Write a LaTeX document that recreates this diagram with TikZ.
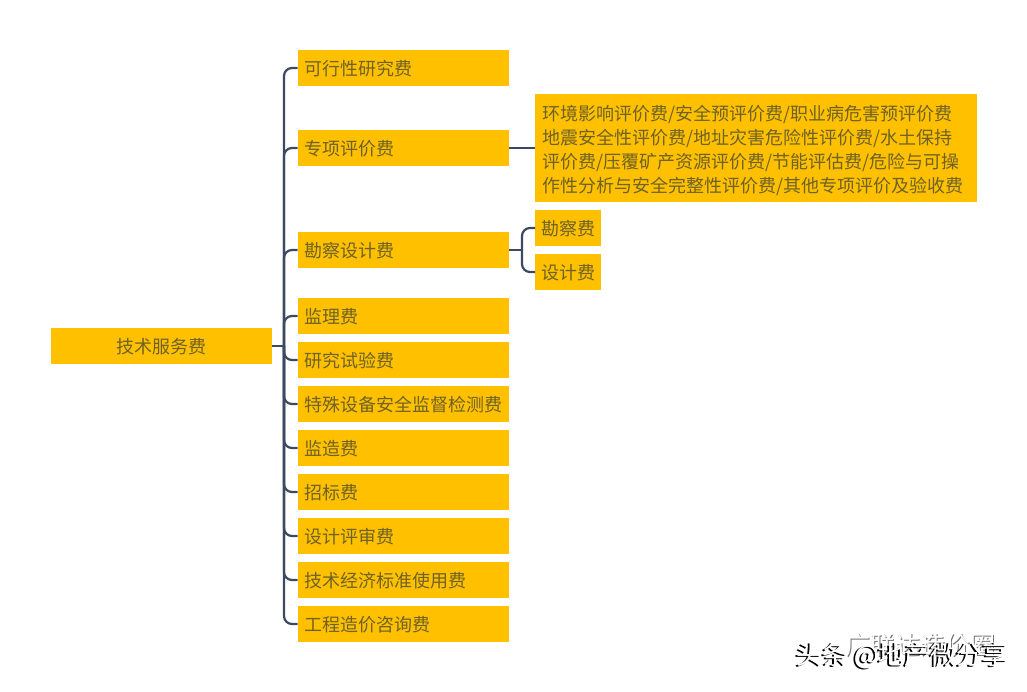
\documentclass[tikz,border=0pt]{standalone}
\usepackage{fontspec}
\setmainfont{Noto Sans CJK SC}
\usepackage{tikz}
\usetikzlibrary{positioning}
\definecolor{boxfill}{HTML}{FFC000}
\definecolor{boxtext}{HTML}{6E6226}
\definecolor{linkcol}{HTML}{3B4A60}
\tikzset{
  item/.style={fill=boxfill, text=boxtext, font=\fontsize{18}{24}\selectfont, inner sep=0pt, outer sep=0pt,
    minimum height=36pt, text height=15pt, text depth=0pt, align=left},
  wide/.style={item, minimum width=211.5pt, text width=197.5pt},
  link/.style={draw=linkcol, line width=2.2pt},
  curved/.style={link, rounded corners=8pt},
  mark1/.style={font=\fontsize{25}{28}\selectfont, inner sep=0pt, anchor=west},
  mark2/.style={font=\fontsize{26}{28}\selectfont, inner sep=0pt, anchor=west},
}
\begin{document}
\begin{tikzpicture}[x=1pt, y=1pt]
    \useasboundingbox (0,0) rectangle (1027,-692);
    \node[item, minimum width=221pt, align=center, text width=221pt] (fee) at (161,-346) {技术服务费};

    \node[wide] (study) at (403.25,-68) {可行性研究费};
    \node[wide, below=44pt of study] (special) {专项评价费};
    \node[wide, below=66pt of special] (survey) {勘察设计费};
    \node[wide, below=30pt of survey] (super) {监理费};
    \node[wide, below=8pt of super] (test) {研究试验费};
    \node[wide, below=8pt of test] (equip) {特殊设备安全监督检测费};
    \node[wide, below=8pt of equip] (made) {监造费};
    \node[wide, below=8pt of made] (bid) {招标费};
    \node[wide, below=8pt of bid] (review) {设计评审费};
    \node[wide, below=8pt of review] (norm) {技术经济标准使用费};
    \node[wide, below=8pt of norm] (cost) {工程造价咨询费};

    \node[fill=boxfill, text=boxtext, font=\fontsize{18}{24}\selectfont, inner sep=0pt, outer sep=0pt,
      minimum width=442pt, minimum height=108pt, text width=428pt, align=left,
      anchor=west] (list) at (535,-148) {\rule{0pt}{20pt}环境影响评价费/安全预评价费/职业病危害预评价费\\
      地震安全性评价费/地址灾害危险性评价费/水土保持\\
      评价费/压覆矿产资源评价费/节能评估费/危险与可操\\
      作性分析与安全完整性评价费/其他专项评价及验收费};
    \node[item, minimum width=66pt, anchor=west] (kan) at (535,-228) {勘察费};
    \node[item, minimum width=66pt, anchor=west] (she) at (535,-272) {设计费};

    \coordinate (trunk) at (284,-346);
    \coordinate (fork) at (522,-250);
    \draw[link] (fee.east) -- (trunk);
    \foreach \n in {study,special,survey,super,test,equip,made,bid,review,norm,cost}
        \draw[curved] (trunk) |- (\n.west);
    \draw[link] (special.east) -- (list.west |- special.east);
    \draw[link] (survey.east) -- (fork);
    \draw[curved] (fork) |- (kan.west);
    \draw[curved] (fork) |- (she.west);

    % watermarks
    \node[mark1, text=black!55] (wa) at (845.8,-645.8) {广联达造价圈};
    \node[mark1, text=white] (wb) at (845,-645) {广联达造价圈};
    \node[mark2, text=black] (wc) at (794,-657) {头条 @地产微分享};
    \node[mark2, text=white] (wd) at (796,-656) {头条 @地产微分享};
\end{tikzpicture}
\end{document}
